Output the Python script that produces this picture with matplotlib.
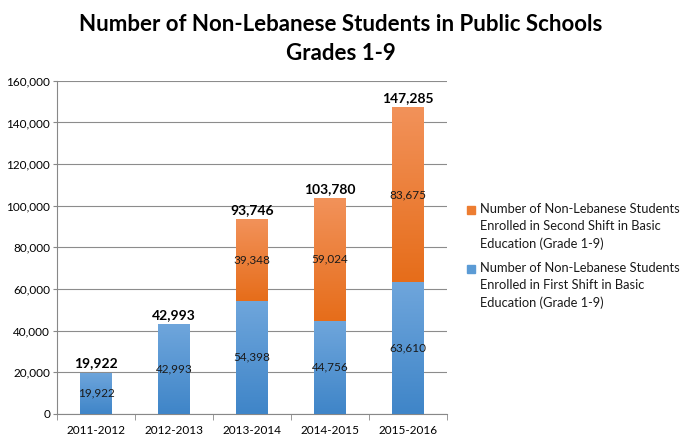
import numpy as np
import matplotlib.pyplot as plt
from matplotlib.colors import LinearSegmentedColormap
from matplotlib.patches import Rectangle

plt.rcParams['font.family'] = ['Lato', 'DejaVu Sans']

years = ['2011-2012', '2012-2013', '2013-2014', '2014-2015', '2015-2016']
first_shift = [19922, 42993, 54398, 44756, 63610]
second_shift = [0, 0, 39348, 59024, 83675]
totals = [19922, 42993, 93746, 103780, 147285]

label_second = ('Number of Non-Lebanese Students\nEnrolled in Second Shift in Basic\n'
                'Education (Grade 1-9)')
label_first = ('Number of Non-Lebanese Students\nEnrolled in First Shift in Basic\n'
               'Education (Grade 1-9)')

fig = plt.figure(figsize=(6.82, 4.43), dpi=100)
ax = fig.add_axes([0.0836, 0.0655, 0.5714, 0.752])

x = np.arange(len(years))
w = 0.4
blue_cmap = LinearSegmentedColormap.from_list('b', ['#3f85c8', '#6fa6dc'])
orange_cmap = LinearSegmentedColormap.from_list('o', ['#e66d1a', '#f2925a'])
grad = np.linspace(0, 1, 256).reshape(-1, 1)

b1 = ax.bar(x, first_shift, w, color='#5a97d4', zorder=2)
b2 = ax.bar(x, second_shift, w, bottom=first_shift, color='#ed8240', zorder=2)

# gradient fill clipped to each bar
for bars, cmap in ((b1, blue_cmap), (b2, orange_cmap)):
    for bar in bars:
        if bar.get_height() <= 0:
            continue
        x0, y0 = bar.get_x(), bar.get_y()
        im = ax.imshow(grad, extent=[x0, x0 + bar.get_width(), y0, y0 + bar.get_height()],
                       origin='lower', cmap=cmap, aspect='auto', zorder=3)
        im.set_clip_path(bar)

for i in range(len(years)):
    ax.text(x[i], first_shift[i] / 2, f'{first_shift[i]:,}', ha='center', va='center',
            fontsize=8.5, color='#1a1a1a', zorder=5)
    if second_shift[i] > 0:
        ax.text(x[i], first_shift[i] + second_shift[i] / 2, f'{second_shift[i]:,}',
                ha='center', va='center', fontsize=8.5, color='#1a1a1a', zorder=5)
    ax.text(x[i], totals[i] + 1500, f'{totals[i]:,}', ha='center', va='bottom',
            fontsize=10, fontweight='bold', color='black', zorder=5)

ax.set_xlim(-0.5, len(years) - 0.5)
ax.set_ylim(0, 160000)
ax.set_yticks(np.arange(0, 160001, 20000))
ax.set_yticklabels([f'{v:,}' for v in range(0, 160001, 20000)], fontsize=8.5)
ax.set_xticks(x)
ax.set_xticklabels(years, fontsize=8.5)
ax.set_xticks(np.arange(-0.5, len(years)), minor=True)
ax.tick_params(axis='x', which='major', length=0, pad=8)
ax.tick_params(axis='x', which='minor', length=4, color='#888888')
ax.tick_params(axis='y', length=3, color='#888888', pad=2)
ax.grid(axis='y', color='#8c8c8c', linewidth=0.8, zorder=0)
ax.set_axisbelow(True)
for s in ['top', 'right']:
    ax.spines[s].set_visible(False)
for s in ['left', 'bottom']:
    ax.spines[s].set_color('#888888')

fig.text(0.5, 0.968, 'Number of Non-Lebanese Students in Public Schools\nGrades 1-9',
         ha='center', va='top', fontsize=16, fontweight='bold', linespacing=1.45)

# legend drawn by hand so the marker sits beside the first line (Excel style)
legend_items = [('#ed7d31', label_second, 203), ('#5b9bd5', label_first, 262)]
W, H = 682, 443
for color, text, top in legend_items:
    fig.patches.append(Rectangle((467 / W, 1 - (top + 11) / H), 8 / W, 8 / H,
                                 transform=fig.transFigure, color=color))
    fig.text(480 / W, 1 - top / H, text, ha='left', va='top', fontsize=9.3,
             linespacing=1.5, color='#1a1a1a')

fig.savefig('out.png', dpi=100)
